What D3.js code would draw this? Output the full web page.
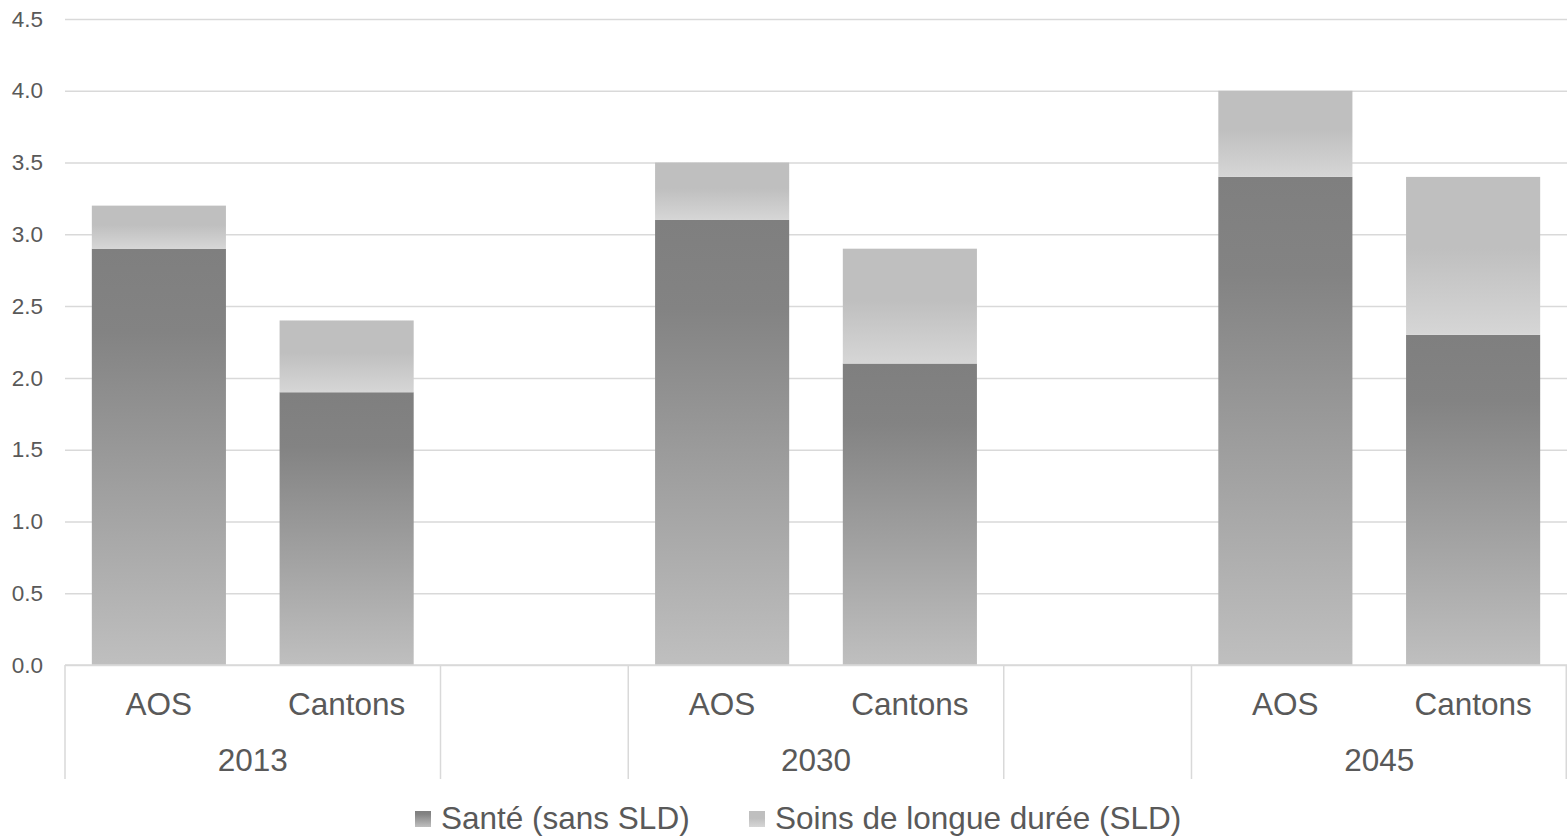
<!DOCTYPE html>
<html>
<head>
<meta charset="utf-8">
<script src="https://cdn.jsdelivr.net/npm/d3@7"></script>
<style>
  body { margin: 0; background: #fff; }
  svg { display: block; font-family: "Liberation Sans", Arial, sans-serif; }
</style>
</head>
<body>
<svg id="chart" width="1567" height="836"></svg>
<script>
// Category slots along the x axis (empty slots separate the year groups)
const slots = ["2013|AOS", "2013|Cantons", "gap1", "2030|AOS", "2030|Cantons", "gap2", "2045|AOS", "2045|Cantons"];
const subLabels = ["AOS", "Cantons", "", "AOS", "Cantons", "", "AOS", "Cantons"];
const years = ["2013", "2030", "2045"];
const yearSlots = [["2013|AOS", "2013|Cantons"], ["2030|AOS", "2030|Cantons"], ["2045|AOS", "2045|Cantons"]];
const dividers = ["2013|AOS", "gap1", "2030|AOS", "gap2", "2045|AOS"];

// Series values (same order as bar slots, null for empty slots)
const sante = [2.9, 1.9, null, 3.1, 2.1, null, 3.4, 2.3];
const sld   = [0.3, 0.5, null, 0.4, 0.8, null, 0.6, 1.1];
const seriesNames = ["Santé (sans SLD)", "Soins de longue durée (SLD)"];
const yTicks = [0, 0.5, 1, 1.5, 2, 2.5, 3, 3.5, 4, 4.5];

const svg = d3.select("#chart");
const plotLeft = 65, plotRight = 1567, plotTop = 19, plotBottom = 665;
const textColor = "#595959";

const x = d3.scaleBand().domain(slots).range([plotLeft, plotRight]).paddingInner(0.2857).paddingOuter(0.1429);
const y = d3.scaleLinear().domain([0, 4.5]).range([plotBottom, plotTop]);

// Gradients
const defs = svg.append("defs");
const g1 = defs.append("linearGradient").attr("id", "gSante").attr("x1", 0).attr("y1", 0).attr("x2", 0).attr("y2", 1);
g1.append("stop").attr("offset", "0%").attr("stop-color", "#7f7f7f");
g1.append("stop").attr("offset", "20%").attr("stop-color", "#838383");
g1.append("stop").attr("offset", "100%").attr("stop-color", "#bfbfbf");
const g2 = defs.append("linearGradient").attr("id", "gSld").attr("x1", 0).attr("y1", 0).attr("x2", 0).attr("y2", 1);
g2.append("stop").attr("offset", "0%").attr("stop-color", "#bfbfbf");
g2.append("stop").attr("offset", "45%").attr("stop-color", "#bfbfbf");
g2.append("stop").attr("offset", "100%").attr("stop-color", "#d6d6d6");

// Gridlines and y tick labels
const yAxis = d3.axisLeft(y).tickValues(yTicks).tickFormat(d3.format(".1f")).tickSize(-(plotRight - plotLeft)).tickPadding(22);
const ya = svg.append("g").attr("transform", `translate(${plotLeft},0)`).call(yAxis);
ya.select(".domain").remove();
ya.selectAll(".tick line").attr("stroke", "#d9d9d9").attr("stroke-width", 1.5);
ya.selectAll(".tick text").attr("fill", textColor).attr("font-size", 22.5).attr("font-family", "Liberation Sans, Arial, sans-serif");

// Bars
const data = slots.map((s, i) => ({ s, a: sante[i], b: sld[i] })).filter(d => d.a != null);
svg.append("g").selectAll("rect").data(data).join("rect")
  .attr("x", d => x(d.s)).attr("width", x.bandwidth())
  .attr("y", d => y(d.a)).attr("height", d => y(0) - y(d.a))
  .attr("fill", "url(#gSante)");
svg.append("g").selectAll("rect").data(data).join("rect")
  .attr("x", d => x(d.s)).attr("width", x.bandwidth())
  .attr("y", d => y(d.a + d.b)).attr("height", d => y(d.a) - y(d.a + d.b))
  .attr("fill", "url(#gSld)");

// Category axis line and dividers
svg.append("line").attr("x1", plotLeft).attr("x2", plotRight).attr("y1", plotBottom).attr("y2", plotBottom)
  .attr("stroke", "#d9d9d9").attr("stroke-width", 1.5);
const step = x.step();
const divX = dividers.map(s => x(s) - x.paddingOuter() * step).concat([plotRight - 0.75]);
svg.append("g").selectAll("line").data(divX).join("line")
  .attr("x1", d => d).attr("x2", d => d).attr("y1", plotBottom).attr("y2", 779)
  .attr("stroke", "#d9d9d9").attr("stroke-width", 1.5);

// Sub-category labels
svg.append("g").selectAll("text").data(slots.map((s, i) => ({ s, t: subLabels[i] })).filter(d => d.t))
  .join("text")
  .attr("x", d => x(d.s) + x.bandwidth() / 2).attr("y", 715)
  .attr("text-anchor", "middle").attr("font-size", 31.5).attr("fill", textColor)
  .text(d => d.t);

// Year labels
svg.append("g").selectAll("text").data(years).join("text")
  .attr("x", (d, i) => {
    const a = x(yearSlots[i][0]) + x.bandwidth() / 2, b = x(yearSlots[i][1]) + x.bandwidth() / 2;
    return (a + b) / 2;
  })
  .attr("y", 771).attr("text-anchor", "middle").attr("font-size", 31.5).attr("fill", textColor)
  .text(d => d);

// Legend
const legend = svg.append("g");
const legendX = [415, 749];
const fills = ["url(#gSante)", "url(#gSld)"];
seriesNames.forEach((n, i) => {
  legend.append("rect").attr("x", legendX[i]).attr("y", 811).attr("width", 16).attr("height", 16).attr("fill", fills[i]);
  legend.append("text").attr("x", legendX[i] + 26).attr("y", 829).attr("font-size", 31.5).attr("fill", textColor).text(n);
});
</script>
</body>
</html>
